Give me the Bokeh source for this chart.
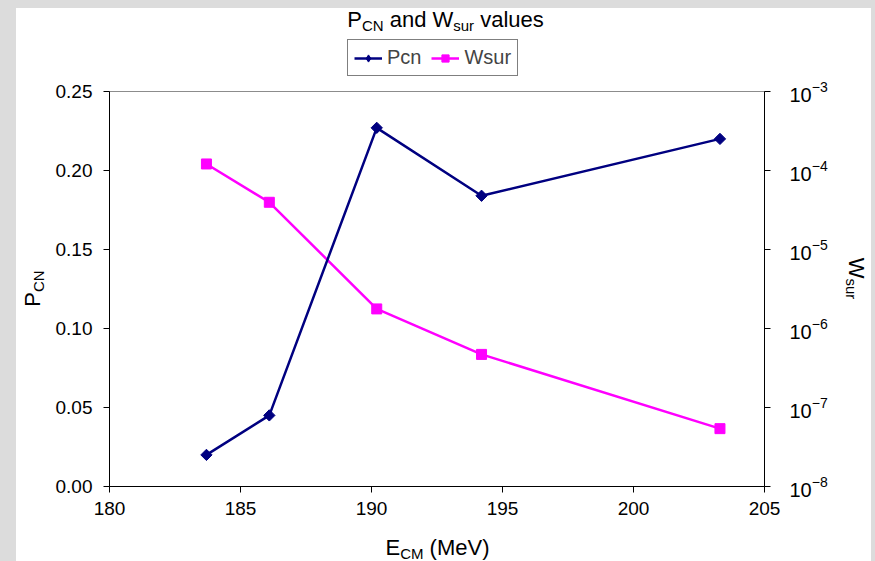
import numpy as np
from bokeh.plotting import figure
from bokeh.models import (Range1d, LogScale, LinearAxis, LogAxis, FixedTicker,
                          NumeralTickFormatter, LogTickFormatter, Label, Legend, LegendItem)
from bokeh.layouts import column, row
from bokeh.embed import file_html
from bokeh.resources import INLINE

# ---- data ----
e_cm = [183.7, 186.1, 190.2, 194.2, 203.3]
pcn = [0.020, 0.045, 0.227, 0.184, 0.220]
wsur = [1.21e-4, 3.96e-5, 1.77e-6, 4.7e-7, 5.4e-8]
x_ticks = [180, 185, 190, 195, 200, 205]
pcn_ticks = [0.0, 0.05, 0.10, 0.15, 0.20, 0.25]
wsur_ticks = [1e-8, 1e-7, 1e-6, 1e-5, 1e-4, 1e-3]

FONT = "Liberation Sans"
NAVY = "#000080"
MAGENTA = "#ff00ff"

# page geometry (white panel starts at page x=16, y=8)
OX, OY = 16, 8
TOTAL_W, TOTAL_H = 855, 553
LEFT_W, RIGHT_W = 34, 29
MAIN_BL, MAIN_BR, MAIN_BT, MAIN_BB = 59, 78, 15, 40
FRAME_W, FRAME_H = 655, 395
TOP_H = 91 - OY - MAIN_BT
MAIN_W = MAIN_BL + FRAME_W + MAIN_BR
MAIN_H = MAIN_BT + FRAME_H + MAIN_BB
BOTTOM_H = TOTAL_H - TOP_H - MAIN_H
BASE_SHIFT = 0.35   # label baseline correction, in em


def text_fig(w, h):
    f = figure(width=w, height=h, output_backend="svg", toolbar_location=None,
               x_range=Range1d(0, 1), y_range=Range1d(0, 1),
               x_axis_type=None, y_axis_type=None,
               min_border=0, min_border_left=0, min_border_right=0,
               min_border_top=0, min_border_bottom=0)
    f.title.visible = False
    f.outline_line_color = None
    f.background_fill_color = "white"
    f.border_fill_color = "white"
    return f


# ---- main chart ----
p = figure(width=MAIN_W, height=MAIN_H, output_backend="svg", toolbar_location=None,
           x_range=Range1d(x_ticks[0], x_ticks[-1]),
           y_range=Range1d(pcn_ticks[0], pcn_ticks[-1]),
           x_axis_type=None, y_axis_type=None,
           min_border_left=MAIN_BL, min_border_right=MAIN_BR,
           min_border_top=MAIN_BT, min_border_bottom=MAIN_BB)
p.title.visible = False
p.extra_y_ranges = {"w": Range1d(wsur_ticks[0], wsur_ticks[-1])}
p.extra_y_scales = {"w": LogScale()}
p.background_fill_color = "white"
p.border_fill_color = "white"
p.outline_line_color = "#8c8c8c"
p.outline_line_width = 1


def style(ax, standoff):
    ax.axis_line_color = "black"
    ax.axis_line_width = 1
    ax.major_tick_line_color = "black"
    ax.major_tick_in = 0
    ax.major_tick_out = 6
    ax.minor_tick_line_color = None
    ax.major_label_text_font = FONT
    ax.major_label_text_font_size = "19px"
    ax.major_label_text_color = "black"
    ax.major_label_standoff = standoff


xa = LinearAxis(ticker=FixedTicker(ticks=x_ticks))
style(xa, 9)
p.add_layout(xa, "below")

ya = LinearAxis(ticker=FixedTicker(ticks=pcn_ticks),
                formatter=NumeralTickFormatter(format="0.00"))
style(ya, 11)
p.add_layout(ya, "left")

ra = LogAxis(y_range_name="w", ticker=FixedTicker(ticks=wsur_ticks),
             formatter=LogTickFormatter())
style(ra, 19)
ra.major_label_text_font_size = "20px"
p.add_layout(ra, "right")

p.line(e_cm, wsur, y_range_name="w", line_color=MAGENTA, line_width=2.5)
p.scatter(e_cm, wsur, y_range_name="w", marker="square", size=10,
          fill_color=MAGENTA, line_color=MAGENTA)
p.line(e_cm, pcn, line_color=NAVY, line_width=2.5)
p.scatter(e_cm, pcn, marker="square", angle=np.pi / 4, size=8,
          fill_color=NAVY, line_color=NAVY)

# ---- text figures around the chart ----
top = text_fig(TOTAL_W, TOP_H)
left = text_fig(LEFT_W, MAIN_H)
right = text_fig(RIGHT_W, MAIN_H)
bottom = text_fig(TOTAL_W, BOTTOM_H)

# legend (sample glyphs only, drawn outside the visible range)
lg_pl = top.line([-1, -2], [-1, -2], line_color=NAVY, line_width=2.5)
lg_ps = top.scatter([-1], [-1], marker="diamond", size=12,
                    fill_color=NAVY, line_color=NAVY)
lg_wl = top.line([-1, -2], [-1, -2], line_color=MAGENTA, line_width=2.5)
lg_ws = top.scatter([-1], [-1], marker="square", size=9,
                    fill_color=MAGENTA, line_color=MAGENTA)
legend = Legend(items=[LegendItem(label="Pcn", renderers=[lg_pl, lg_ps]),
                       LegendItem(label="Wsur", renderers=[lg_wl, lg_ws])],
                orientation="horizontal",
                location=(347 - OX, 0))
legend.border_line_color = "black"
legend.border_line_width = 1
legend.background_fill_color = "white"
legend.background_fill_alpha = 1
legend.padding = 6
legend.spacing = 10
legend.margin = 0
legend.glyph_width = 28
legend.glyph_height = 18
legend.label_standoff = 5
legend.label_height = 18
legend.label_text_font = FONT
legend.label_text_font_size = "20px"
top.add_layout(legend, "center")

CW = {"P": .667, "a": .556, "n": .556, "d": .556, "W": .944, "v": .5, "l": .222,
      "u": .556, "e": .556, "s": .5, " ": .278, "C": .722, "N": .722, "M": .833,
      "E": .667, "(": .333, ")": .333, "V": .667, "r": .333}


def tw(s, size):
    return sum(CW.get(c, .556) for c in s) * size


def rich(fig, fig_left, fig_bottom, segments, cx, cy, angle=0.0):
    """segments: (text, size, baseline shift). cx/cy in page pixels: centre along
    the reading direction and position of the main baseline."""
    total = sum(tw(t, s) for t, s, _ in segments)
    pos = -total / 2
    for t, s, sh in segments:
        lead = len(t) - len(t.lstrip(" "))
        pos += tw(" " * lead, s)
        t = t.lstrip(" ")
        d = sh - BASE_SHIFT * s    # shift along the text's "down" direction
        if angle == 0:
            px, py = cx + pos, cy + d
        elif angle > 0:   # reads bottom to top
            px, py = cx + d, cy - pos
        else:             # reads top to bottom
            px, py = cx - d, cy + pos
        fig.add_layout(Label(x=px - fig_left, y=fig_bottom - py,
                             x_units="screen", y_units="screen", text=t,
                             angle=angle, text_align="left",
                             text_baseline="alphabetic",
                             text_font=FONT, text_font_size=f"{s}px",
                             text_color="black"))
        pos += tw(t, s)


mid_top = OY + TOP_H
mid_bottom = mid_top + MAIN_H
# the side figures share the main chart's frame (aligned in the row)
side_frame_bottom = mid_bottom - MAIN_BB
rich(top, OX, OY + TOP_H,
     [("P", 22, 0), ("CN", 15, 3.5), (" and W", 22, 0), ("sur", 15, 3.5),
      (" values", 22, 0)], 445, 27)
rich(bottom, OX, OY + TOTAL_H,
     [("E", 22, 0), ("CM", 15, 3.5), (" (MeV)", 22, 0)], 437, 555)
rich(left, OX, side_frame_bottom, [("P", 22, 0), ("CN", 15, 3)], 40, 288,
     angle=np.pi / 2)
rich(right, OX + LEFT_W + MAIN_W, side_frame_bottom, [("W", 22, 0), ("sur", 15, 2)],
     848, 278, angle=-np.pi / 2)

inner = column(top, row(left, p, right), bottom,
               styles={"background-color": "white"})
layout = column(inner, styles={"background-color": "#dcdcdc",
                               "padding": f"{OY}px 4px 0px {OX}px"})

open("out.html", "w").write(file_html(layout, INLINE))
